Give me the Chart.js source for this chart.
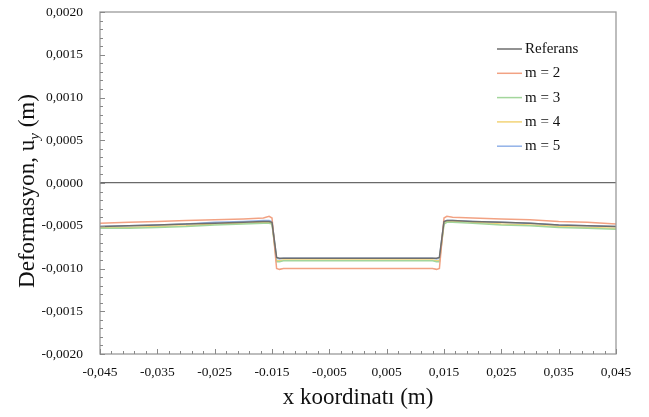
<!DOCTYPE html>
<html>
<head>
<meta charset="utf-8">
<script src="https://cdn.jsdelivr.net/npm/chart.js@4.4.0/dist/chart.umd.min.js"></script>
<style>
  html, body { margin: 0; padding: 0; background: #fff; }
  #wrap { width: 649px; height: 417px; }
</style>
</head>
<body>
<div id="wrap"><canvas id="chart" width="649" height="417"></canvas></div>
<script>
// x positions (m)
const xCoords = [-0.045, -0.040, -0.035, -0.030, -0.025, -0.020, -0.0165, -0.0155, -0.0150, -0.0142, -0.0137, -0.0130, -0.010, -0.005, 0,
                 0.005, 0.010, 0.0130, 0.0137, 0.0142, 0.0150, 0.0155, 0.0165, 0.020, 0.025, 0.030, 0.035, 0.040, 0.045];

const referans = [-0.00051, -0.00050, -0.00049, -0.00048, -0.00047, -0.00046, -0.00045, -0.00045, -0.00046, -0.00087, -0.00088, -0.00088, -0.00088, -0.00088, -0.00088,
                  -0.00088, -0.00088, -0.00088, -0.00088, -0.00087, -0.00045, -0.00044, -0.00044, -0.00045, -0.00046, -0.00047, -0.00049, -0.00050, -0.00051];
const m2 = [-0.00047, -0.00046, -0.00045, -0.00044, -0.00043, -0.00042, -0.00041, -0.00039, -0.00041, -0.00100, -0.00101, -0.00100, -0.00100, -0.00100, -0.00100,
            -0.00100, -0.00100, -0.00100, -0.00101, -0.00100, -0.00041, -0.00039, -0.00040, -0.00041, -0.00042, -0.00043, -0.00045, -0.00046, -0.00048];
const m3 = [-0.00053, -0.00053, -0.00052, -0.00051, -0.00049, -0.00048, -0.00047, -0.00047, -0.00048, -0.00092, -0.00092, -0.00091, -0.00091, -0.00091, -0.00091,
            -0.00091, -0.00091, -0.00091, -0.00092, -0.00092, -0.00048, -0.00046, -0.00046, -0.00047, -0.00049, -0.00050, -0.00052, -0.00053, -0.00054];
const m4 = [-0.00052, -0.00052, -0.00051, -0.00050, -0.00048, -0.00047, -0.00046, -0.00046, -0.00047, -0.00091, -0.00091, -0.00090, -0.00090, -0.00090, -0.00090,
            -0.00090, -0.00090, -0.00090, -0.00091, -0.00091, -0.00047, -0.00045, -0.00045, -0.00046, -0.00048, -0.00049, -0.00051, -0.00052, -0.00053];
const m5 = [-0.00051, -0.00050, -0.00049, -0.00048, -0.00046, -0.00045, -0.00044, -0.00044, -0.00045, -0.00088, -0.00089, -0.00088, -0.00088, -0.00088, -0.00088,
            -0.00088, -0.00088, -0.00088, -0.00089, -0.00088, -0.00045, -0.00044, -0.00044, -0.00045, -0.00046, -0.00047, -0.00049, -0.00050, -0.00051];

const seriesLabels = ['Referans', 'm = 2', 'm = 3', 'm = 4', 'm = 5'];
const xTickValues = [-0.045, -0.035, -0.025, -0.015, -0.005, 0.005, 0.015, 0.025, 0.035, 0.045];
const xTickLabels = ['-0,045', '-0,035', '-0,025', '-0.015', '-0,005', '0,005', '0,015', '0,025', '0,035', '0,045'];
const yTickValues = [-0.002, -0.0015, -0.001, -0.0005, 0, 0.0005, 0.001, 0.0015, 0.002];
const yTickLabels = ['-0,0020', '-0,0015', '-0,0010', '-0,0005', '0,0000', '0,0005', '0,0010', '0,0015', '0,0020'];

const colors = ['#6e6e6e', '#f2a283', '#a3d69c', '#f3d478', '#92b2e8'];
const serif = '"Liberation Serif", "Times New Roman", serif';

function pts(ys) {
    return xCoords.map((x, i) => ({ x: x, y: ys[i] }));
}

// frame, inward tick marks, y title with subscript, legend
const decorPlugin = {
    id: 'decor',
    afterDraw(chart) {
        const ctx = chart.ctx;
        const a = chart.chartArea;
        const xs = chart.scales.x;
        const ys = chart.scales.y;
        ctx.save();

        ctx.strokeStyle = '#9a9a9a';
        ctx.lineWidth = 1.3;
        ctx.strokeRect(a.left, a.top, a.right - a.left, a.bottom - a.top);

        ctx.strokeStyle = '#888';
        ctx.lineWidth = 1;
        ctx.beginPath();
        for (let i = 0; i <= 45; i++) {
            const v = -0.045 + i * 0.002;
            const px = Math.round(xs.getPixelForValue(v)) + 0.5;
            const len = (i % 5 === 0) ? 5 : 3;
            ctx.moveTo(px, a.bottom);
            ctx.lineTo(px, a.bottom - len);
        }
        for (let i = 0; i <= 40; i++) {
            const v = -0.002 + i * 0.0001;
            const py = Math.round(ys.getPixelForValue(v)) + 0.5;
            const len = (i % 5 === 0) ? 5 : 3;
            ctx.moveTo(a.left, py);
            ctx.lineTo(a.left + len, py);
        }
        ctx.stroke();

        // y axis title
        ctx.fillStyle = '#111';
        ctx.textBaseline = 'alphabetic';
        ctx.textAlign = 'left';
        const big = '23px ' + serif;
        const small = 'italic 15px ' + serif;
        const p1 = 'Deformasyon, u';
        const p2 = 'y';
        const p3 = ' (m)';
        ctx.font = big;
        const w1 = ctx.measureText(p1).width;
        const w3 = ctx.measureText(p3).width;
        ctx.font = small;
        const w2 = ctx.measureText(p2).width;
        const total = w1 + w2 + w3;
        ctx.translate(34, (a.top + a.bottom) / 2 + 8);
        ctx.rotate(-Math.PI / 2);
        let cx = -total / 2;
        ctx.font = big;
        ctx.fillText(p1, cx, 0);
        cx += w1;
        ctx.font = small;
        ctx.fillText(p2, cx, 5);
        cx += w2;
        ctx.font = big;
        ctx.fillText(p3, cx, 0);
        ctx.restore();

        // legend
        ctx.save();
        ctx.font = '15px ' + serif;
        ctx.textBaseline = 'middle';
        ctx.fillStyle = '#111';
        chart.data.datasets.forEach((ds, i) => {
            const y = 49 + i * 24.3;
            ctx.strokeStyle = ds.borderColor;
            ctx.lineWidth = 1.5;
            ctx.beginPath();
            ctx.moveTo(497, y);
            ctx.lineTo(522, y);
            ctx.stroke();
            ctx.fillText(ds.label, 525, y);
        });
        ctx.restore();
    }
};

new Chart(document.getElementById('chart'), {
    type: 'scatter',
    data: {
        datasets: [referans, m2, m3, m4, m5].map((ys, i) => ({
            label: seriesLabels[i],
            data: pts(ys),
            showLine: true,
            borderColor: colors[i],
            backgroundColor: colors[i],
            borderWidth: 1.5,
            pointRadius: 0,
            tension: 0
        }))
    },
    options: {
        responsive: false,
        animation: false,
        layout: { padding: { left: 0, top: 12, right: 33, bottom: 0 } },
        plugins: {
            legend: { display: false },
            tooltip: { enabled: false }
        },
        scales: {
            x: {
                type: 'linear',
                min: -0.045,
                max: 0.045,
                afterBuildTicks: s => { s.ticks = xTickValues.map(v => ({ value: v })); },
                afterFit: s => { s.height = 63; s.paddingLeft = 0; s.paddingRight = 0; },
                grid: { display: false, drawTicks: false },
                border: { display: false },
                ticks: {
                    padding: 10,
                    color: '#111',
                    font: { family: serif, size: 13.5 },
                    maxRotation: 0,
                    callback: (v, i) => xTickLabels[i]
                },
                title: {
                    display: true,
                    text: 'x koordinatı (m)',
                    color: '#111',
                    font: { family: serif, size: 23 },
                    padding: { top: 4, bottom: 5 }
                }
            },
            y: {
                type: 'linear',
                min: -0.002,
                max: 0.002,
                afterBuildTicks: s => { s.ticks = yTickValues.map(v => ({ value: v })); },
                afterFit: s => { s.width = 100; s.paddingTop = 0; s.paddingBottom = 0; },
                grid: {
                    drawTicks: false,
                    lineWidth: 1.3,
                    color: c => (c.tick && c.tick.value === 0) ? '#6a6a6a' : 'rgba(0,0,0,0)'
                },
                border: { display: false },
                ticks: {
                    padding: 17,
                    color: '#111',
                    font: { family: serif, size: 13.5 },
                    callback: (v, i) => yTickLabels[i]
                }
            }
        }
    },
    plugins: [decorPlugin]
});
</script>
</body>
</html>
